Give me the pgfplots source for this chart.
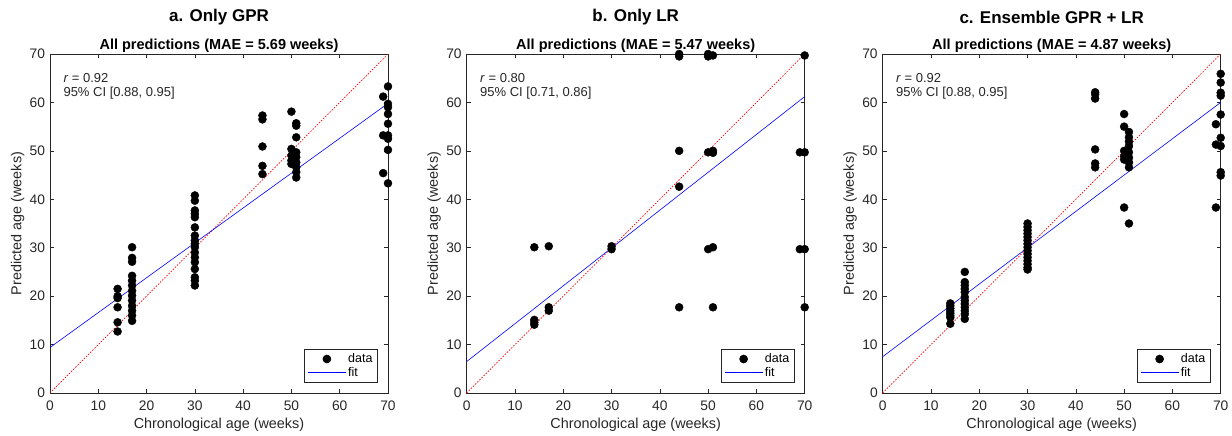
\documentclass[border=0pt]{standalone}
\usepackage{fontspec}
\setmainfont{Liberation Sans}
\usepackage{pgfplots}
\pgfplotsset{compat=1.18}
\definecolor{axgray}{rgb}{0.15,0.15,0.15}
\newcommand{\tickfont}{\fontsize{13.8}{16}\selectfont}
\newcommand{\labfont}{\fontsize{14.4}{17}\selectfont}
\newcommand{\annfont}{\fontsize{13}{15}\selectfont}
\newcommand{\panelnodes}[4]{%
  \node[font=\labfont, text=axgray] at (axis description cs:0.5,-0.094) {Chronological age (weeks)};
  \node[font=\labfont, text=axgray, rotate=90] at (axis description cs:-0.096,0.5) {Predicted age (weeks)};
  \node[font=\bfseries\fontsize{14.5}{17}\selectfont] at (axis description cs:0.5,1.024) {All predictions (MAE = #1 weeks)};
  \node[font=\bfseries\fontsize{17}{20}\selectfont] at (axis description cs:0.5,1.109) {#2};
  \node[anchor=west, font=\annfont, text=axgray] at (axis description cs:0.0296,0.929) {\textit{r} = #3};
  \node[anchor=west, font=\annfont, text=axgray] at (axis description cs:0.0296,0.884) {95\% CI #4};
}
\pgfplotsset{
  mystyle/.style={
    scale only axis, width=338pt, height=339pt,
    xmin=0, xmax=70, ymin=0, ymax=70,
    xtick={0,10,...,70}, ytick={0,10,...,70},
    tick align=inside, major tick length=4pt,
    axis line style={axgray, line width=0.6pt},
    every tick/.style={axgray, line width=0.6pt},
    ticklabel style={font=\tickfont, text=axgray},
    xticklabel style={yshift=-4pt},
    yticklabel style={xshift=-1.5pt},
    /pgf/number format/assume math mode=true,
    legend style={font=\fontsize{12.5}{14}\selectfont, draw=axgray, line width=0.6pt, at={(axis description cs:0.970,0.032)}, anchor=south east, inner xsep=3pt, inner ysep=2pt, row sep=-1pt},
    legend cell align=left,
    clip=false,
  },
  datstyle/.style={only marks, mark=*, mark size=4pt, black,
    legend image code/.code={\draw[mark repeat=2,mark phase=2,##1] plot coordinates {(0pt,0pt) (19pt,0pt) (38pt,0pt)};}},
  fitstyle/.style={blue, line width=0.6pt, no marks,
    legend image code/.code={\draw[##1] (0pt,0pt) -- (38pt,0pt);}},
  idstyle/.style={red, line width=0.7pt, dash pattern=on 1.5pt off 1.5pt, no marks, forget plot},
}
\begin{document}
\begin{tikzpicture}[x=1pt,y=1pt]
\path[use as bounding box] (0,0) rectangle (1232,436);
% ---------------- a ----------------
\begin{axis}[mystyle, at={(50pt,43pt)}, anchor=south west]
\addplot[idstyle] coordinates {(0,0) (70,70)};
\addplot[datstyle] coordinates {
(14,21.5) (14,20.0) (14,19.6) (14,17.7) (14,14.6) (14,12.7)
(17,30.1) (17,27.9) (17,27.1) (17,24.2) (17,23.2) (17,22.2) (17,21.1) (17,20.1) (17,19.1) (17,18.0) (17,17.0) (17,16.0) (17,14.9)
(30,40.8) (30,39.7) (30,37.7) (30,37.0) (30,36.3) (30,34.2) (30,32.5) (30,31.5) (30,30.8) (30,30.1) (30,29.0) (30,28.0) (30,27.0) (30,25.6) (30,23.9) (30,23.2) (30,22.2)
(44,57.3) (44,56.5) (44,50.9) (44,46.9) (44,45.2)
(50,58.1) (50,50.4) (50,49.0) (50,48.0) (50,47.3)
(51,55.7) (51,55.2) (51,52.8) (51,49.7) (51,48.7) (51,47.6) (51,46.6) (51,45.6) (51,44.5)
(69,61.2) (69,53.2) (69,45.4)
(70,63.3) (70,59.7) (70,59.0) (70,57.6) (70,55.6) (70,53.2) (70,52.5) (70,50.2) (70,43.3)
};
\addlegendentry{data}
\addplot[fitstyle] coordinates {(0,9.4) (70,59.8)};
\addlegendentry{fit}
\panelnodes{5.69}{a. Only GPR}{0.92}{[0.88, 0.95]}
\end{axis}
% ---------------- b ----------------
\begin{axis}[mystyle, at={(466.7pt,43pt)}, anchor=south west]
\addplot[idstyle] coordinates {(0,0) (70,70)};
\addplot[datstyle] coordinates {
(14,30.1) (14,15.1) (14,14.6) (14,14.1)
(17,30.3) (17,17.7) (17,17.0)
(30,30.3) (30,29.7)
(44,70) (44,69.5) (44,50.0) (44,42.6) (44,17.7)
(50,70) (50,69.5) (50,49.7) (50,29.7)
(51,69.7) (51,50.0) (51,49.6) (51,30.1) (51,17.7)
(69,49.7) (69,29.7)
(70,69.7) (70,49.7) (70,29.7) (70,17.7)
};
\addlegendentry{data}
\addplot[fitstyle] coordinates {(0,6.5) (70,61.2)};
\addlegendentry{fit}
\panelnodes{5.47}{b. Only LR}{0.80}{[0.71, 0.86]}
\end{axis}
% ---------------- c ----------------
\begin{axis}[mystyle, at={(882.7pt,43pt)}, anchor=south west]
\addplot[idstyle] coordinates {(0,0) (70,70)};
\addplot[datstyle] coordinates {
(14,18.5) (14,18.0) (14,17.5) (14,17.0) (14,16.5) (14,16.0) (14,15.6) (14,14.3)
(17,25.0) (17,22.9) (17,22.2) (17,21.5) (17,20.8) (17,19.8) (17,19.1) (17,18.4) (17,17.7) (17,17.0) (17,16.3) (17,15.3)
(30,35.0) (30,34.3) (30,33.6) (30,32.9) (30,32.2) (30,31.5) (30,30.8) (30,30.1) (30,29.4) (30,28.7) (30,28.0) (30,27.3) (30,26.6) (30,25.9) (30,25.5)
(44,62.1) (44,61.7) (44,60.8) (44,50.3) (44,47.4) (44,46.6)
(50,57.6) (50,55.0) (50,50.0) (50,48.9) (50,48.2) (50,38.3)
(51,53.9) (51,52.8) (51,51.9) (51,51.0) (51,49.7) (51,48.6) (51,47.6) (51,46.6) (51,35.0)
(69,55.5) (69,51.3) (69,38.3)
(70,65.9) (70,64.1) (70,62.0) (70,61.4) (70,57.5) (70,52.7) (70,51.0) (70,45.6) (70,44.9)
};
\addlegendentry{data}
\addplot[fitstyle] coordinates {(0,7.5) (70,60.0)};
\addlegendentry{fit}
\panelnodes{4.87}{c. Ensemble GPR + LR}{0.92}{[0.88, 0.95]}
\end{axis}
\end{tikzpicture}
\end{document}
